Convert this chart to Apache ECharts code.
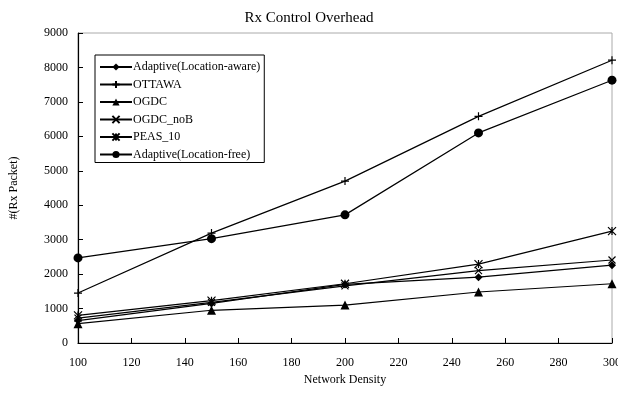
<!DOCTYPE html>
<html>
<head>
<meta charset="utf-8">
<script src="https://cdn.jsdelivr.net/npm/echarts@6/dist/echarts.min.js"></script>
<style>html,body{margin:0;padding:0;background:#fff}#c{width:618px;height:394px}</style>
</head>
<body>
<div id="c"></div>
<script>
var xValues = [100, 150, 200, 250, 300];
var seriesNames = ['Adaptive(Location-aware)', 'OTTAWA', 'OGDC', 'OGDC_noB', 'PEAS_10', 'Adaptive(Location-free)'];
var adaptiveAware = [650, 1150, 1700, 1910, 2260];
var ottawa = [1450, 3190, 4700, 6580, 8210];
var ogdc = [560, 950, 1100, 1480, 1720];
var ogdcNoB = [720, 1180, 1660, 2100, 2410];
var peas10 = [800, 1230, 1720, 2290, 3250];
var adaptiveFree = [2470, 3030, 3720, 6100, 7630];
var yTicks = [0, 1000, 2000, 3000, 4000, 5000, 6000, 7000, 8000, 9000];

var symbols = [
  'diamond',
  'path://M5,0 L5,10 M0,5 L10,5',
  'triangle',
  'path://M0,0 L10,10 M10,0 L0,10',
  'path://M0,0 L10,10 M10,0 L0,10 M5,0 L5,10',
  'circle'
];
var sizes = [8, 8, 9, 7, 8, 9];
var dataSets = [adaptiveAware, ottawa, ogdc, ogdcNoB, peas10, adaptiveFree];
var font = '"Liberation Serif", "DejaVu Serif", serif';

var series = seriesNames.map(function (n, i) {
  return {
    name: n,
    type: 'line',
    data: xValues.map(function (x, j) { return [x, dataSets[i][j]]; }),
    symbol: symbols[i],
    symbolSize: sizes[i],
    showAllSymbol: true,
    lineStyle: { color: '#000', width: 1.2 },
    itemStyle: { color: '#000', borderColor: '#000', borderWidth: (symbols[i].indexOf('path') === 0 ? 1.2 : 0) },
    emphasis: { disabled: true },
    animation: false
  };
});

var chart = echarts.init(document.getElementById('c'), null, { renderer: 'canvas' });
chart.setOption({
  backgroundColor: '#fff',
  animation: false,
  title: {
    text: 'Rx Control Overhead',
    left: 'center',
    top: 6,
    textStyle: { fontFamily: font, fontSize: 15, fontWeight: 'normal', color: '#000' }
  },
  grid: {
    left: 78, right: 6, top: 33, bottom: 51,
    outerBoundsMode: 'none', containLabel: false,
    show: true, borderColor: '#aaa', borderWidth: 1, backgroundColor: 'transparent'
  },
  legend: {
    orient: 'vertical',
    left: 95, top: 55,
    itemWidth: 32, itemHeight: 9, itemGap: 5.5,
    padding: [6, 4, 2, 4],
    borderColor: '#000', borderWidth: 1, backgroundColor: '#fff',
    textStyle: { fontFamily: font, fontSize: 12, color: '#000', padding: [0, 0, 0, -4] },
    data: seriesNames
  },
  xAxis: {
    type: 'value', min: 100, max: 300, interval: 20,
    name: 'Network Density', nameLocation: 'middle', nameGap: 28,
    nameTextStyle: { fontFamily: font, fontSize: 12, color: '#000' },
    axisLine: { lineStyle: { color: '#000', width: 1.2 } },
    axisTick: { inside: true, length: 5, lineStyle: { color: '#000' } },
    axisLabel: { fontFamily: font, fontSize: 12, color: '#000', margin: 14 },
    splitLine: { show: false }
  },
  yAxis: {
    type: 'value', min: 0, max: 9000, interval: 1000,
    name: '#(Rx Packet)', nameLocation: 'middle', nameGap: 58, nameRotate: 90,
    nameTextStyle: { fontFamily: font, fontSize: 12, color: '#000' },
    axisLine: { show: true, lineStyle: { color: '#000', width: 1.2 } },
    axisTick: { show: true, inside: true, length: 5, lineStyle: { color: '#000' } },
    axisLabel: { fontFamily: font, fontSize: 12, color: '#000', margin: 10,
      formatter: function (v) { return yTicks.indexOf(v) >= 0 ? String(v) : ''; } },
    splitLine: { show: false }
  },
  series: series
});
</script>
</body>
</html>
